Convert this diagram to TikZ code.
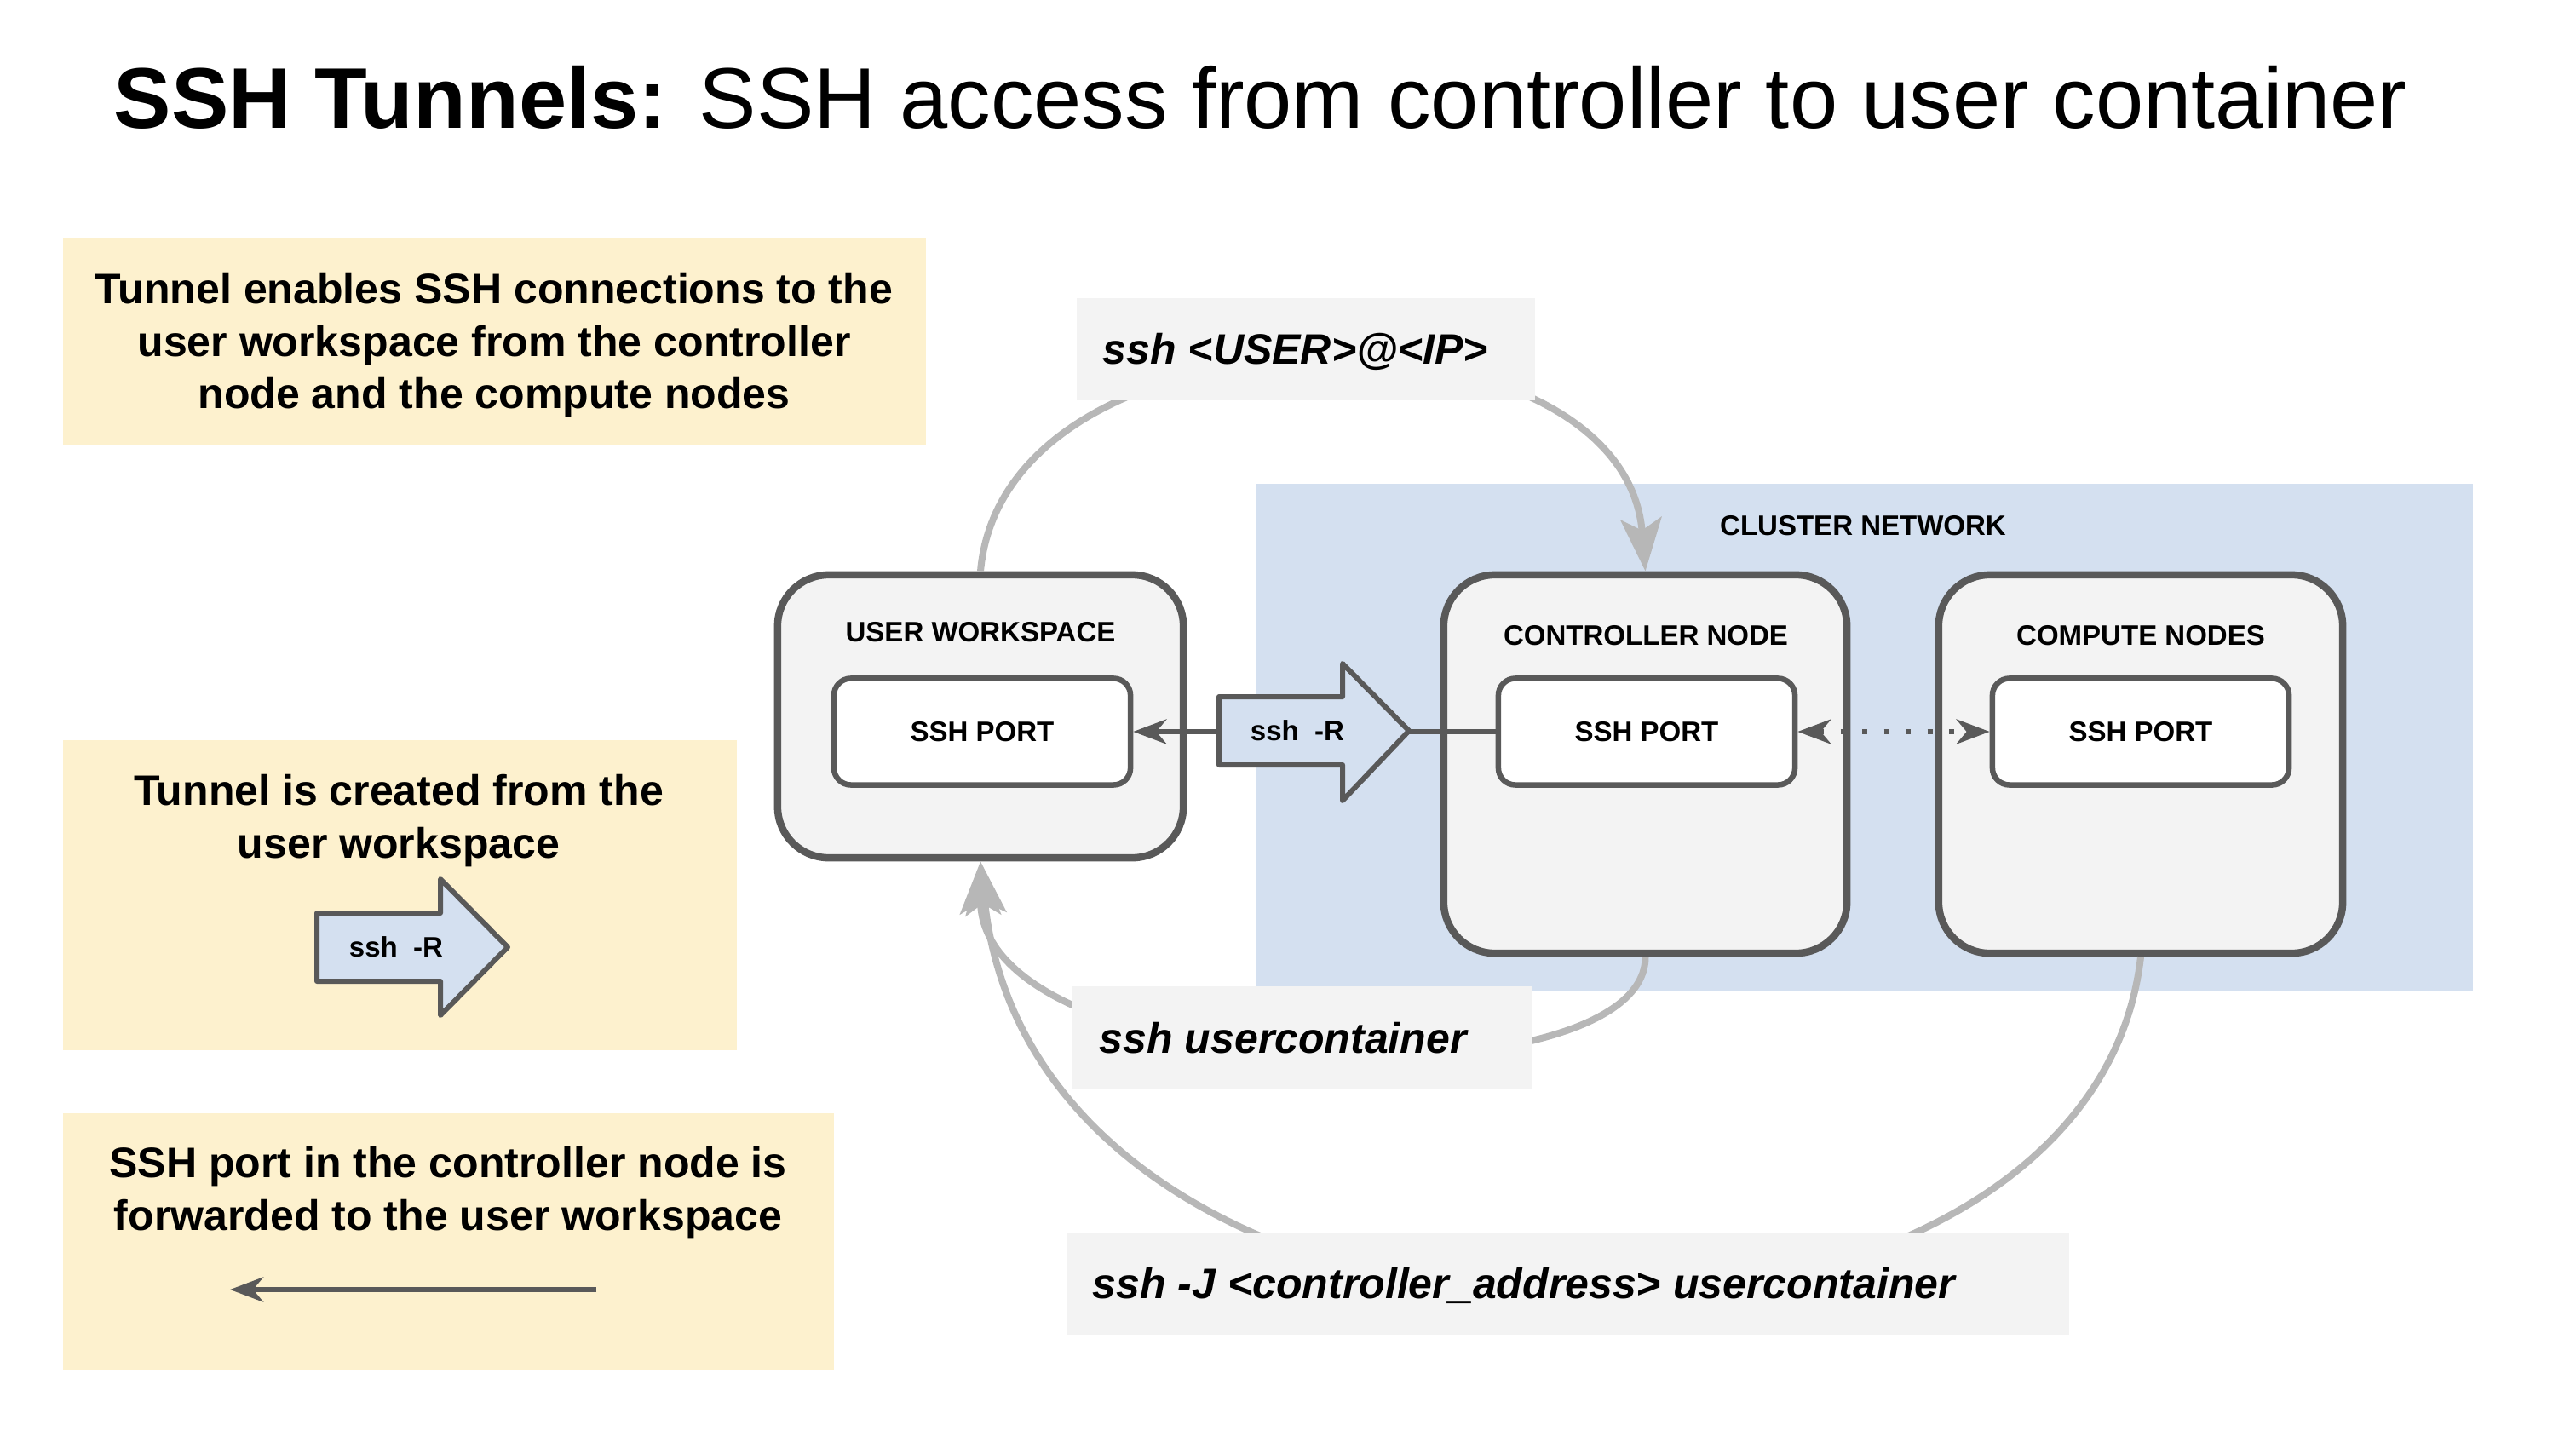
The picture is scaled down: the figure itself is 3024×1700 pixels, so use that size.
\documentclass[tikz,border=0pt]{standalone}
\usepackage{fontspec}
\setmainfont{Liberation Sans}
\usetikzlibrary{arrows.meta}
\definecolor{dk}{HTML}{595959}
\definecolor{grayarr}{HTML}{B7B7B7}
\definecolor{lightF}{HTML}{F3F3F3}
\definecolor{clusterB}{HTML}{D4E0F0}
\definecolor{noteY}{HTML}{FDF1CE}
\tikzset{
  dkTip/.tip={Stealth[length=0.39cm,width=0.29cm,inset=0.12cm]},
  grTip/.tip={Stealth[length=0.62cm,width=0.48cm,inset=0.14cm]},
  notebox/.style={fill=noteY, draw=none, inner sep=0, anchor=north west},
  notetext/.style={font={\bfseries\fontsize{14.23}{17.36}\selectfont}, align=center, inner sep=0, anchor=north},
  bigbox/.style={draw=dk, fill=lightF, line width=0.085cm, rounded corners=0.6cm, inner sep=0},
  portbox/.style={draw=dk, fill=white, line width=0.065cm, rounded corners=0.2cm, inner sep=0,
    minimum width=3.48cm, minimum height=1.25cm, font={\bfseries\fontsize{9.39}{11}\selectfont}},
  smalllabel/.style={font={\bfseries\fontsize{9.39}{11}\selectfont}, inner sep=0},
  cmdbox/.style={fill=lightF, draw=none, inner sep=0, anchor=north west},
  cmdtext/.style={font={\bfseries\itshape\fontsize{14.23}{17}\selectfont}, inner sep=0, anchor=base west},
  darkline/.style={draw=dk, line width=0.06cm},
  grayline/.style={draw=grayarr, line width=0.08cm, -{grTip}},
  rshape/.style={draw=dk, fill=clusterB, line width=0.06cm, line join=round},
}
\begin{document}
\begin{tikzpicture}[x=0.01cm, y=-0.01cm]
\useasboundingbox (0,0) rectangle (3024,1700);
\fill[white] (0,0) rectangle (3024,1700);

% title
\node[anchor=base west, inner sep=0, font={\fontsize{28.74}{34}\selectfont}] (title) at (133,151)
  {\textbf{SSH Tunnels:} SSH access from controller to user container};

% cluster network background
\node[fill=clusterB, inner sep=0, anchor=north west, minimum width=14.28cm, minimum height=5.96cm] (cluster) at (1473,567) {};
\node[smalllabel] (clusterlbl) at (2187,617) {CLUSTER NETWORK};

% notes
\node[notebox, minimum width=10.13cm, minimum height=2.43cm] (note1) at (73,278) {};
\node[notetext] (note1t) at (580,320) {Tunnel enables SSH connections to the\\user workspace from the controller\\node and the compute nodes};

\node[notebox, minimum width=7.91cm, minimum height=3.64cm] (note2) at (73,868) {};
\node[notetext] (note2t) at (468,909) {Tunnel is created from the\\user workspace};
\draw[rshape] (372,1072) -- (517,1072) -- (517,1032) -- (596,1112) -- (517,1192) -- (517,1152) -- (372,1152) -- cycle;
\node[smalllabel] (legendr) at (465,1112) {ssh\ \ -R};

\node[notebox, minimum width=9.05cm, minimum height=3.02cm] (note3) at (73,1306) {};
\node[notetext] (note3t) at (526,1346) {SSH port in the controller node is\\forwarded to the user workspace};
\coordinate (la) at (700,1514);
\coordinate (lb) at (270,1514);
\draw[darkline, -{dkTip}] (la) -- (lb);

% big boxes
\node[bigbox, minimum width=4.76cm, minimum height=3.32cm] (uw) at (1151,841) {};
\node[bigbox, minimum width=4.73cm, minimum height=4.44cm] (cn) at (1931.5,897) {};
\node[bigbox, minimum width=4.74cm, minimum height=4.44cm] (mn) at (2513,897) {};
\node[smalllabel] (uwl) at (1151,742) {USER WORKSPACE};
\node[smalllabel] (cnl) at (1932,746) {CONTROLLER NODE};
\node[smalllabel] (mnl) at (2513,746) {COMPUTE NODES};

% ports
\node[portbox] (up) at (1153,859) {SSH PORT};
\node[portbox] (cp) at (1933,859) {SSH PORT};
\node[portbox] (mp) at (2513,859) {SSH PORT};

% gray ssh connections
\draw[grayline] (uw.north) .. controls (1180,345) and (1905,345) .. (cn.north);
\draw[grayline] (cn.south) .. controls (1932,1300) and (1151,1280) .. (uw.south);
\draw[grayline] (mn.south) .. controls (2450,1670) and (1220,1670) .. (uw.south);

% port forwarding
\draw[darkline, -{dkTip}] (cp.west) -- (up.east);
\draw[rshape] (1431,818) -- (1576,818) -- (1576,779) -- (1654,858) -- (1576,940) -- (1576,898) -- (1431,898) -- cycle;
\node[smalllabel] (midr) at (1523,858) {ssh\ \ -R};
\draw[darkline, dash pattern=on 0.06cm off 0.195cm, {dkTip}-{dkTip}] (cp.east) -- (mp.west);

% command labels
\node[cmdbox, minimum width=5.38cm, minimum height=1.20cm] (c1) at (1263,349) {};
\node[cmdtext] (c1t) at (1294,427) {ssh <USER>@<IP>};
\node[cmdbox, minimum width=5.40cm, minimum height=1.20cm] (c2) at (1257,1157) {};
\node[cmdtext] (c2t) at (1290,1236) {ssh usercontainer};
\node[cmdbox, minimum width=11.76cm, minimum height=1.20cm] (c3) at (1252,1446) {};
\node[cmdtext] (c3t) at (1282,1524) {ssh -J <controller\_address> usercontainer};
\end{tikzpicture}
\end{document}
